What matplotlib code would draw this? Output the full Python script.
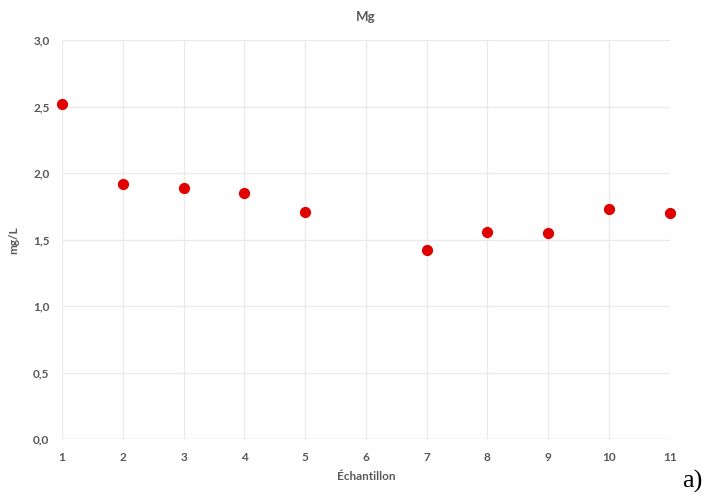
import matplotlib
matplotlib.use("Agg")
import matplotlib.pyplot as plt
from matplotlib.ticker import FuncFormatter

# =====================================
# Data
# =====================================
echantillon = [1, 2, 3, 4, 5, 7, 8, 9, 10, 11]
mg = [2.52, 1.92, 1.89, 1.85, 1.71, 1.42, 1.56, 1.55, 1.73, 1.70]
x_ticks = list(range(1, 12))
y_ticks = [0.0, 0.5, 1.0, 1.5, 2.0, 2.5, 3.0]

grey = "#595959"
plt.rcParams['font.family'] = ['Lato', 'DejaVu Sans']

# =====================================
# Figure
# =====================================
fig = plt.figure(figsize=(7.15, 5.03), dpi=100)
ax = fig.add_axes([0.0867, 0.127, 0.850, 0.793])

ax.scatter(echantillon, mg, s=50, color="#e00000", zorder=3, clip_on=False)

ax.set_xlim(1, 11)
ax.set_ylim(0, 3)
ax.set_xticks(x_ticks)
ax.set_yticks(y_ticks)
ax.yaxis.set_major_formatter(FuncFormatter(lambda v, p: f"{v:.1f}".replace(".", ",")))

ax.grid(True, color="#ebebeb", linewidth=1)
ax.set_axisbelow(True)
for s in ax.spines.values():
    s.set_visible(False)
ax.axhline(0, color="#dedede", linewidth=1, zorder=1)

ax.tick_params(length=0, colors=grey, labelsize=8.5, pad=9)
for lab in ax.get_xticklabels() + ax.get_yticklabels():
    lab.set_fontweight("bold")

ax.set_title("Mg", color=grey, fontsize=9.5, fontweight="bold", pad=14)
ax.set_xlabel("Échantillon", color=grey, fontsize=8.5, fontweight="bold", labelpad=6)
ax.set_ylabel("mg/L", color=grey, fontsize=8.5, fontweight="bold", labelpad=10)

fig.text(0.982, 0.03, "a)", fontsize=19, family="Liberation Serif", ha="right", va="baseline")

fig.savefig("out.png", dpi=100)
